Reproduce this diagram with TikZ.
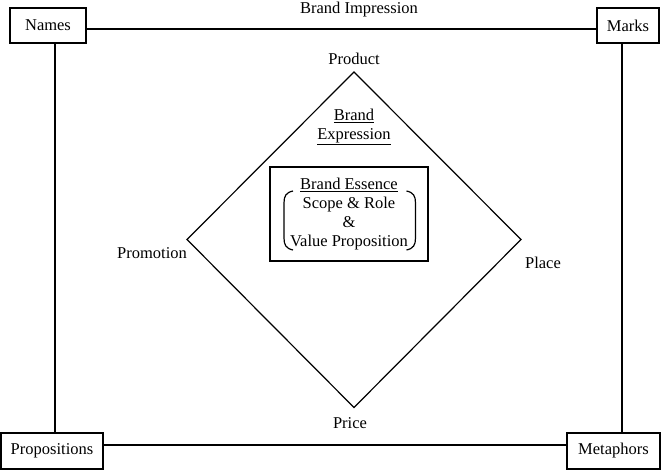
\documentclass[tikz,border=0pt]{standalone}
\usepackage{fontspec}
\setmainfont{Liberation Serif}
\begin{document}
\begin{tikzpicture}[x=1pt,y=-1pt,
  font=\fontsize{16.5}{19}\selectfont,
  line width=1.2pt,
  box/.style={draw, inner sep=0pt},
  lbl/.style={inner sep=0pt, align=center}]
\useasboundingbox (0,0) rectangle (662,470);
% corner boxes
\node[box, minimum width=76pt, minimum height=35pt] (names) at (48,25.5) {Names};
\node[box, minimum width=62pt, minimum height=35pt] (marks) at (628,25.5) {Marks};
\node[box, minimum width=102pt, minimum height=36pt] (props) at (52,451) {Propositions};
\node[box, minimum width=93pt, minimum height=36pt] (meta) at (613.5,451) {Metaphors};
% frame connectors
\draw ([yshift=-3.5pt]names.east) -- ([yshift=-3.5pt]marks.west);
\draw ([xshift=7pt]names.south) -- ([xshift=3pt]props.north);
\draw ([xshift=-6pt]marks.south) -- ([xshift=8.5pt]meta.north);
\draw ([yshift=6pt]props.east) -- ([yshift=6pt]meta.west);
\node[lbl] (impression) at (359,10) {Brand Impression};
% diamond
\coordinate (dt) at (354,72);
\coordinate (dr) at (521,239.5);
\coordinate (db) at (354,407.5);
\coordinate (dl) at (187,239.5);
\draw (dt) -- (dr) -- (db) -- (dl) -- cycle;
\node[lbl] (product) at (354,59) {Product};
\node[lbl] (price) at (350,423) {Price};
\node[lbl] (promotion) at (152,253) {Promotion};
\node[lbl] (place) at (543,263) {Place};
\node[lbl] (expr) at (354,127) {\underline{Brand}\\\underline{Expression}};
% essence box
\node[box, minimum width=158pt, minimum height=94pt] (essence) at (349,214) {};
\node[lbl] (esstext) at (349,214.5) {\underline{Brand Essence}\\Scope \& Role\\\&\\Value Proposition};
\coordinate (lbt) at (293,191);
\coordinate (lbb) at (293,250);
\coordinate (rbt) at (406.5,191);
\coordinate (rbb) at (406.5,250);
\draw (lbt) .. controls (286,192.5) and (284,196) .. (284,203) -- (284,238) .. controls (284,245) and (286,248.5) .. (lbb);
\draw (rbt) .. controls (413.5,192.5) and (415.5,196) .. (415.5,203) -- (415.5,238) .. controls (415.5,245) and (413.5,248.5) .. (rbb);
\end{tikzpicture}
\end{document}
